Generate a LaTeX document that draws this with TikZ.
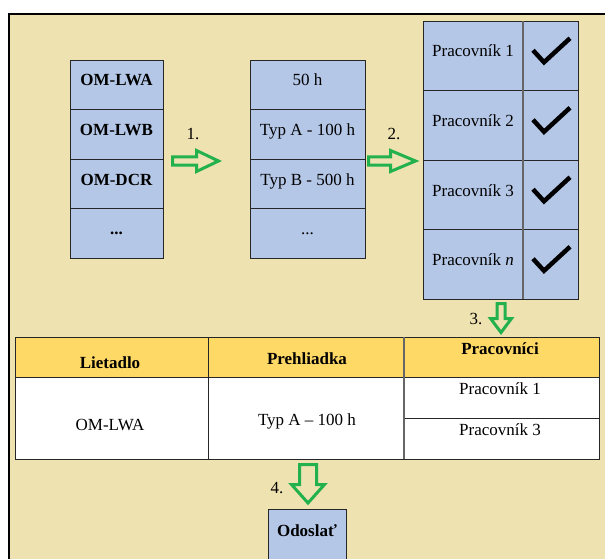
\documentclass[tikz,border=0pt]{standalone}
\usepackage{fontspec}
\setmainfont{Liberation Serif}
\usepackage{tikz}
\usetikzlibrary{positioning}

\definecolor{bgbeige}{HTML}{EEE2B1}
\definecolor{cellblue}{HTML}{B4C7E7}
\definecolor{headyellow}{HTML}{FFD966}
\definecolor{arrowgreen}{HTML}{22B14C}

\tikzset{
	cell/.style = {draw=black!85, fill=cellblue, line width=0.8pt, outer sep=0pt, inner sep=0pt, text height=12pt, text depth=9.5pt},
	acol/.style = {cell, minimum width=93pt, minimum height=49.5pt},
	bcol/.style = {cell, minimum width=115pt, minimum height=49.5pt},
	wcol/.style = {cell, minimum width=100pt, minimum height=69.5pt},
	ccol/.style = {cell, minimum width=55pt, minimum height=69.5pt},
	tcell/.style = {draw=black!85, line width=0.8pt, outer sep=0pt, inner sep=0pt},
	ttext/.style = {inner sep=0pt, text height=12pt, text depth=4pt},
	divider/.style = {draw=black!60, line width=1.4pt},
	flowarrow/.style = {draw=arrowgreen, fill=bgbeige, line width=3pt, line join=miter},
	tick/.style = {line width=4.5pt},
	% #1 length, #2 shaft length, #3 half shaft, #4 half head
	pics/harrow/.style n args = {4}{code={
		\draw[flowarrow] (0,-#3) -- (#2,-#3) -- (#2,-#4) -- (#1,0) -- (#2,#4) -- (#2,#3) -- (0,#3) -- cycle;
	}}
}

\begin{document}
\begin{tikzpicture}[x=1pt, y=-1pt, font=\fontsize{17}{20}\selectfont]

	\useasboundingbox (0,0) rectangle (605,559);
	\clip (0,0) rectangle (605,559);
	\draw[line width=2pt, fill=bgbeige] (9,14) rectangle (640,600);

	% lietadla
	\node[acol] (lwa) at (116.5,84.75) {\textbf{OM-LWA}};
	\node[acol, below=0pt of lwa] (lwb) {\textbf{OM-LWB}};
	\node[acol, below=0pt of lwb] (dcr) {\textbf{OM-DCR}};
	\node[acol, below=0pt of dcr] (adots) {\textbf{...}};

	% prehliadky
	\node[bcol] (h50) at (307.5,84.75) {50 h};
	\node[bcol, below=0pt of h50] (typa) {Typ A - 100 h};
	\node[bcol, below=0pt of typa] (typb) {Typ B - 500 h};
	\node[bcol, below=0pt of typb] (bdots) {...};

	% pracovnici
	\node[wcol] (w1) at (473,55.75) {Pracovník 1};
	\node[wcol, below=0pt of w1] (w2) {Pracovník 2};
	\node[wcol, below=0pt of w2] (w3) {Pracovník 3};
	\node[wcol, below=0pt of w3] (w4) {Pracovník \textit{n}};
	\foreach \i in {1,...,4}
		\node[ccol, right=0pt of w\i] (c\i) {};
	\draw[divider] (c1.north west) -- (c4.south west);
	\foreach \i in {1,...,4}
		\draw[tick] ([shift={(-17.5,-5.5)}]c\i.center) -- ([shift={(-6.5,6.5)}]c\i.center) -- ([shift={(19.5,-17.5)}]c\i.center);

	% tabulka
	\node[tcell, fill=headyellow, minimum width=193pt, minimum height=40pt] (hl) at (111.5,357) {};
	\node[tcell, fill=headyellow, minimum width=196pt, minimum height=40pt, right=0pt of hl] (hp) {};
	\node[tcell, fill=headyellow, minimum width=195pt, minimum height=40pt, right=0pt of hp] (hw) {};
	\node[tcell, fill=white, minimum width=193pt, minimum height=82pt, below=0pt of hl] (bl) {};
	\node[tcell, fill=white, minimum width=196pt, minimum height=82pt, below=0pt of hp] (bp) {};
	\node[tcell, fill=white, minimum width=195pt, minimum height=41pt, below=0pt of hw] (bw1) {};
	\node[tcell, fill=white, minimum width=195pt, minimum height=41pt, below=0pt of bw1] (bw3) {};
	\draw[divider] (hw.north west) -- (bw3.south west);

	\node[ttext] (tl) at (110,364) {\textbf{Lietadlo}};
	\node[ttext] (tp) at (307,360) {\textbf{Prehliadka}};
	\node[ttext] (tw) at (500,350) {\textbf{Pracovníci}};
	\node[ttext] (tlwa) at (110,426) {OM-LWA};
	\node[ttext] (ttyp) at (307,421) {Typ A – 100 h};
	\node[ttext] (tw1) at (500,390) {Pracovník 1};
	\node[ttext] (tw3) at (500,431) {Pracovník 3};

	% odoslat
	\node[cell, anchor=north, minimum width=78pt, text height=12pt, text depth=45pt, inner ysep=15pt] (send) at (307,509) {\textbf{Odoslať}};

	% sipky
	\coordinate (a1) at (172.5,161);
	\coordinate (a2) at (368.5,161);
	\coordinate (a3) at (501,303.5);
	\coordinate (a4) at (308,464.5);
	\pic at (a1) {harrow={46}{24}{4}{10.5}};
	\pic at (a2) {harrow={47}{22}{4}{10.5}};
	\pic[rotate=-90] at (a3) {harrow={29}{15}{4}{10.5}};
	\pic[rotate=-90] at (a4) {harrow={38.5}{20}{8.5}{16.5}};

	\node (l1) at (193,134) {1.};
	\node (l2) at (394,134) {2.};
	\node (l3) at (476,319) {3.};
	\node (l4) at (277,488) {4.};

\end{tikzpicture}
\end{document}
